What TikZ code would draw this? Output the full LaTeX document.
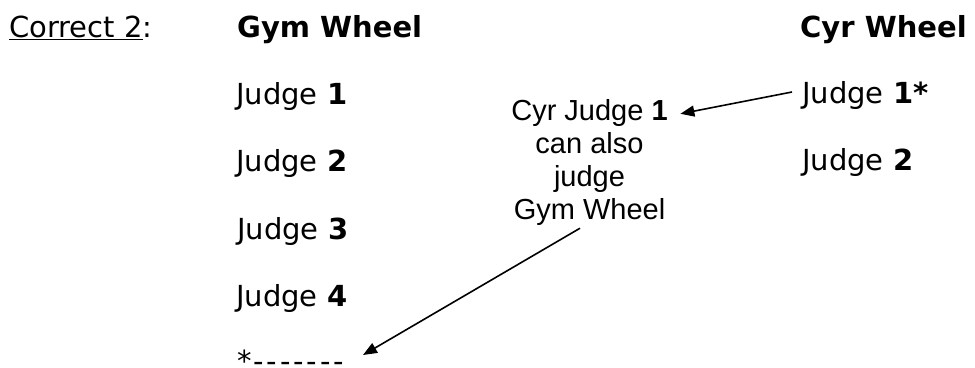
\documentclass[tikz,border=0pt]{standalone}
\usepackage{fontspec}
\setmainfont{DejaVu Sans}
\newfontfamily\notefont{Liberation Sans}
\usetikzlibrary{arrows.meta, positioning}

\newcommand{\dashrun}{-\kern2.8pt-\kern2.8pt-\kern2.8pt-\kern2.8pt-\kern2.8pt-\kern2.8pt-}

\begin{document}
\begin{tikzpicture}[x=1pt, y=-1pt,
            every node/.style={inner sep=0pt},
            judge text/.style={font=\fontsize{29}{34}\selectfont, anchor=base west},
            head text/.style={judge text, font=\fontsize{29}{34}\selectfont\bfseries},
            note text/.style={font=\notefont\fontsize{29}{33}\selectfont, align=center, anchor=base},
            pointer/.style={-{Triangle[length=14pt, width=11pt]}, line width=1.6pt}]

            \useasboundingbox (0,0) rectangle (975,367);

            % Headings
            \node[judge text] (title) at (9,37) {\underline{Correct 2}:};
            \node[head text] (gym) at (237,37) {Gym Wheel};
            \node[head text] (cyr) at (800,37) {Cyr Wheel};

            % Gym Wheel judges
            \node[judge text] (gym1) at (236,104) {Judge \textbf{1}};
            \node[judge text] (gym2) at (236,171) {Judge \textbf{2}};
            \node[judge text] (gym3) at (237,239) {Judge \textbf{3}};
            \node[judge text] (gym4) at (236,306) {Judge \textbf{4}};
            \node[judge text] (gym5) at (237,371) {*\kern2pt\dashrun};

            % Cyr Wheel judges
            \node[judge text] (cyr1) at (802,103) {Judge \textbf{1*}};
            \node[judge text] (cyr2) at (802,170) {Judge \textbf{2}};

            % Note
            \node[note text] (note) at (589.5,219) {Cyr Judge \textbf{1}\\can also\\judge\\Gym Wheel};

            % Pointers
            \draw[pointer] ([xshift=-10pt, yshift=11pt]cyr1.base west) -- ([xshift=12.5pt, yshift=-15pt]note.north east);
            \draw[pointer] ([xshift=-9.5pt, yshift=-3pt]note.south) -- ([xshift=126pt, yshift=16pt]gym5.base west);
        \end{tikzpicture}
\end{document}
